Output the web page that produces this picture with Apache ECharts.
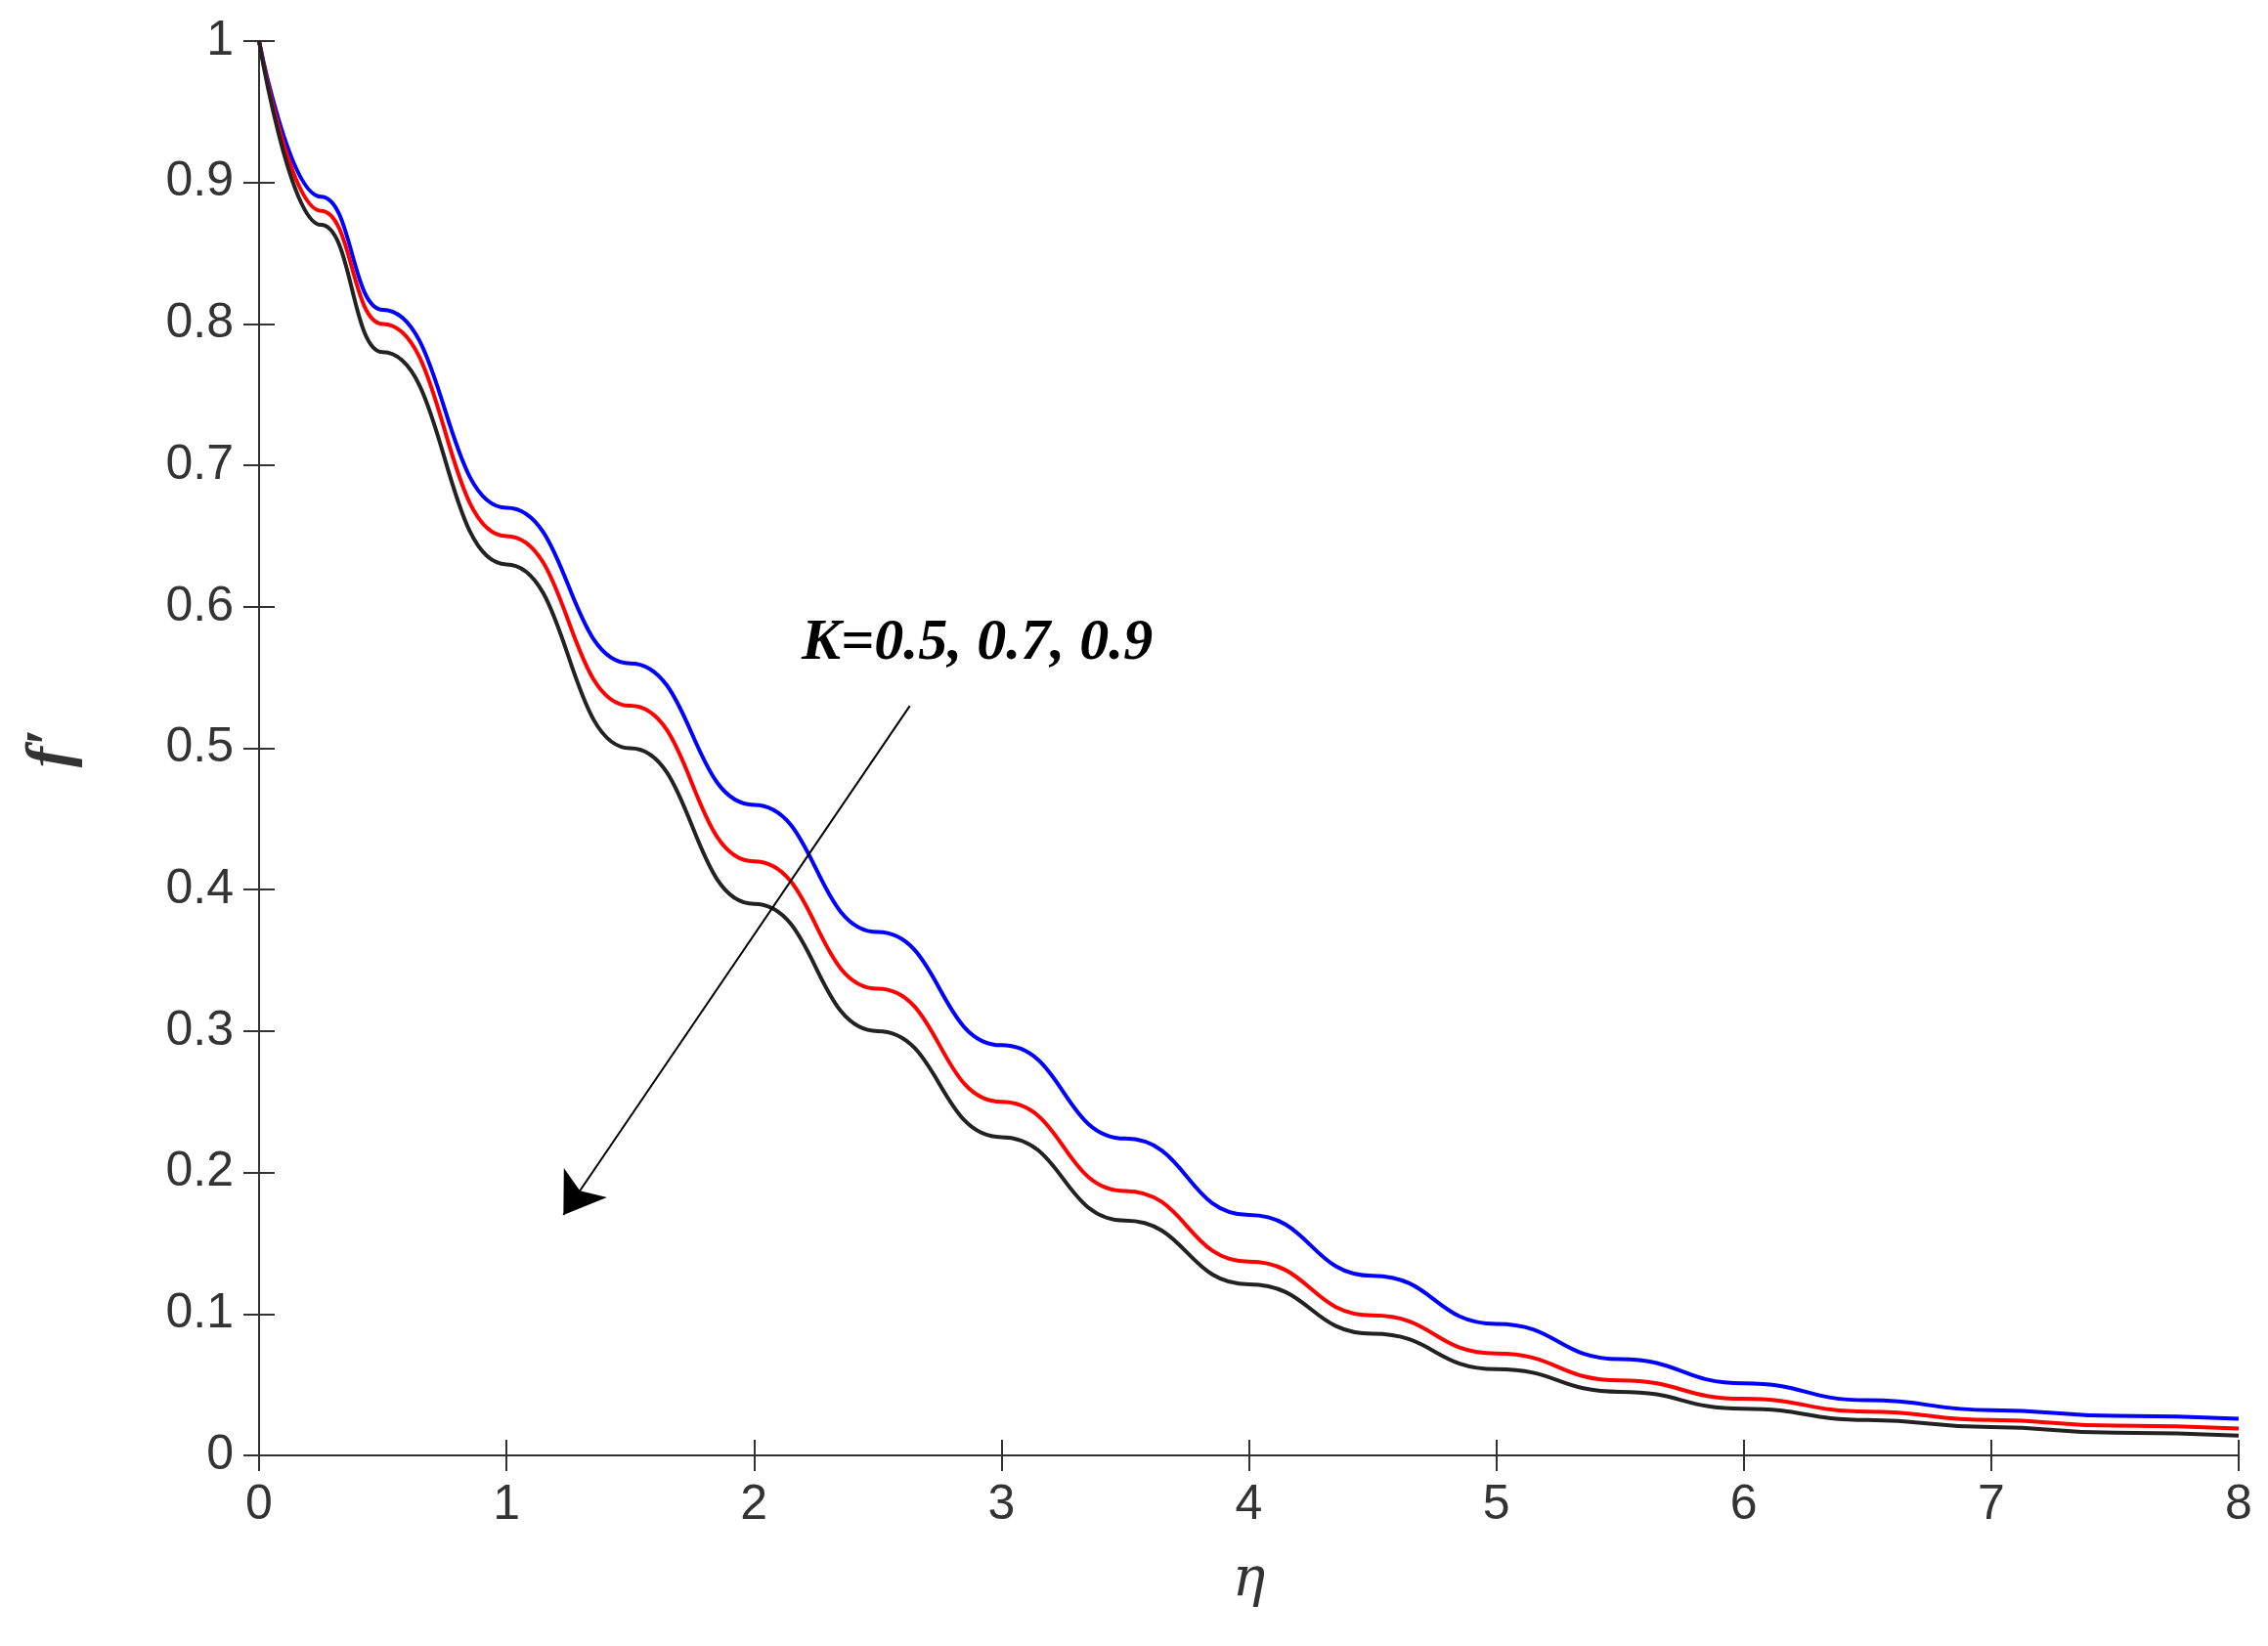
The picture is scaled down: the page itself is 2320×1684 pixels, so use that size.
<!DOCTYPE html>
<html lang="en">
<head>
<meta charset="UTF-8">
<title>f' vs eta</title>
<script src="https://cdn.jsdelivr.net/npm/echarts@6/dist/echarts.min.js"></script>
</head>
<body style="margin:0;background:#fff;">
<div id="container" style="width:2320px;height:1684px;"></div>
<script>
let etaValues = [0, 0.25, 0.5, 1, 1.5, 2, 2.5, 3, 3.5, 4, 4.5, 5, 5.5, 6, 6.5, 7, 7.5, 8];
let k05 = [1, 0.89, 0.81, 0.67, 0.56, 0.46, 0.37, 0.29, 0.224, 0.17, 0.127, 0.093, 0.068, 0.051, 0.039, 0.032, 0.028, 0.026];
let k07 = [1, 0.88, 0.80, 0.65, 0.53, 0.42, 0.33, 0.25, 0.187, 0.137, 0.099, 0.072, 0.053, 0.04, 0.031, 0.025, 0.021, 0.019];
let k09 = [1, 0.87, 0.78, 0.63, 0.50, 0.39, 0.30, 0.225, 0.166, 0.121, 0.086, 0.061, 0.045, 0.033, 0.025, 0.02, 0.016, 0.014];
let arrowFrom = [2.63, 0.53];
let arrowTo = [1.23, 0.17];

function pairs(ys) { return etaValues.map((x, i) => [x, ys[i]]); }

let chart = echarts.init(document.getElementById('container'));
let axLine = {show: true, lineStyle: {color: '#333', width: 2}};
let axTick = {show: true, inside: true, length: 16, lineStyle: {color: '#333', width: 2}};
let labelStyle = {color: '#333', fontSize: 50, fontFamily: 'Liberation Sans', margin: 26};
function line(name, ys, color) {
    return {name: name, type: 'line', data: pairs(ys), smooth: true, smoothMonotone: 'x', symbol: 'none',
        lineStyle: {color: color, width: 4}};
}
let series = [line('K=0.5', k05, '#0000ff'), line('K=0.7', k07, '#ff0000'), line('K=0.9', k09, '#222')];
series[2].markLine = {
    silent: true, symbol: ['none', 'arrow'], symbolSize: 40,
    label: {show: false},
    lineStyle: {color: '#000', width: 2, type: 'solid'},
    data: [[{coord: arrowFrom}, {coord: arrowTo}]]
};
chart.setOption({
    animation: false,
    grid: {left: 265, right: 30, top: 42, bottom: 195},
    xAxis: [{type: 'value', min: 0, max: 8, interval: 1, position: 'bottom',
        name: 'η', nameLocation: 'middle', nameGap: 100,
        nameTextStyle: {fontSize: 56, fontStyle: 'italic', fontFamily: 'DejaVu Serif', color: '#333'},
        axisLine: axLine, axisTick: axTick, splitLine: {show: false}, axisLabel: labelStyle},
        {type: 'value', min: 0, max: 8, interval: 1, position: 'top',
        axisLine: axLine, axisTick: axTick, axisLabel: {show: false}, splitLine: {show: false}}],
    yAxis: [{type: 'value', min: 0, max: 1, interval: 0.1, position: 'left',
        name: "f′", nameLocation: 'middle', nameGap: 180, nameRotate: 90,
        nameTextStyle: {fontSize: 64, fontStyle: 'italic', fontWeight: 'bold', fontFamily: 'Liberation Serif', color: '#333'},
        axisLine: axLine, axisTick: axTick, splitLine: {show: false},
        axisLabel: Object.assign({}, labelStyle, {formatter: v => String(Math.round(v * 10) / 10)})},
        {type: 'value', min: 0, max: 1, interval: 0.1, position: 'right',
        axisLine: axLine, axisTick: axTick, axisLabel: {show: false}, splitLine: {show: false}}],
    graphic: [{type: 'text', left: 820, top: 628,
        style: {text: 'K=0.5, 0.7, 0.9', fontSize: 60, fontStyle: 'italic', fontWeight: 'bold',
            fontFamily: 'Liberation Serif', fill: '#000'}}],
    series: series
});
</script>
</body>
</html>
